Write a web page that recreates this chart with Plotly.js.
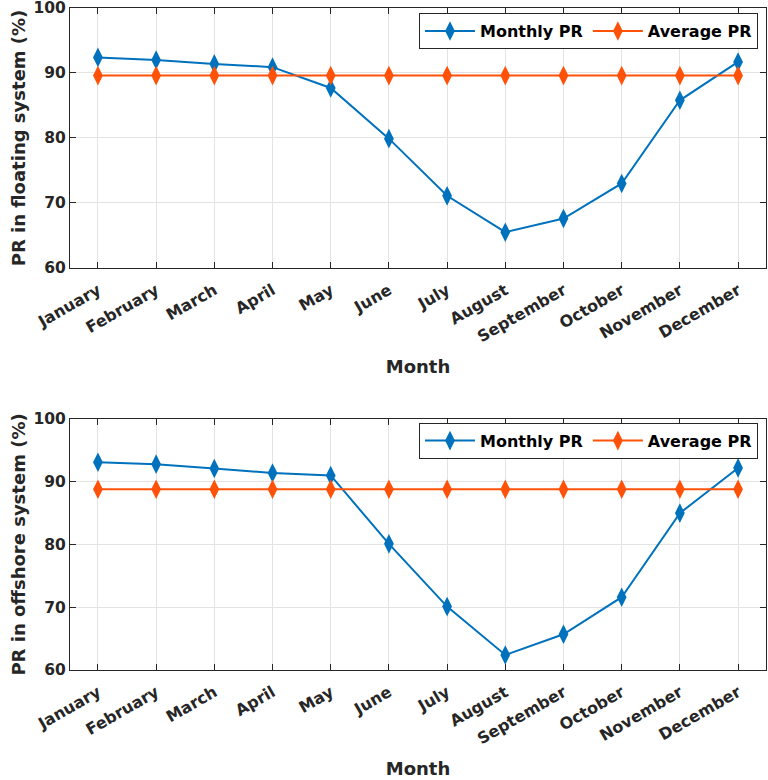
<!DOCTYPE html>
<html>
<head>
<meta charset="utf-8">
<script src="https://cdn.plot.ly/plotly-3.0.1.min.js"></script>
<style>html,body{margin:0;padding:0;background:#fff;}#chart{width:768px;height:780px;}</style>
</head>
<body>
<div id="chart"></div>
<script>
const months = ["January","February","March","April","May","June","July","August","September","October","November","December"];
const floatingMonthly = [92.4, 92.0, 91.4, 90.9, 87.7, 79.9, 71.1, 65.5, 67.6, 73.0, 85.8, 91.7];
const floatingAverage = [89.6, 89.6, 89.6, 89.6, 89.6, 89.6, 89.6, 89.6, 89.6, 89.6, 89.6, 89.6];
const offshoreMonthly = [93.1, 92.8, 92.1, 91.4, 91.0, 80.1, 70.1, 62.4, 65.7, 71.6, 85.0, 92.2];
const offshoreAverage = [88.8, 88.8, 88.8, 88.8, 88.8, 88.8, 88.8, 88.8, 88.8, 88.8, 88.8, 88.8];
const yTicks = [60, 70, 80, 90, 100];

const BLUE = '#0072BD', ORANGE = '#FF5208';
const FONT = 'DejaVu Sans, Liberation Sans, sans-serif';
const TXT = '#262626';
const idx = months.map((m, i) => i);

function series(y, name, color, xa, ya, legend, zorder) {
  return {
    x: idx, y: y, name: name, type: 'scatter', mode: 'lines+markers',
    xaxis: xa, yaxis: ya, legend: legend,
    line: {color: color, width: 2},
    marker: {symbol: 'diamond-tall', size: 14, color: color},
    zorder: zorder
  };
}

const data = [
  series(floatingMonthly, 'Monthly PR', BLUE, 'x', 'y', 'legend', 0),
  series(floatingAverage, 'Average PR', ORANGE, 'x', 'y', 'legend', 1),
  series(offshoreMonthly, 'Monthly PR', BLUE, 'x2', 'y2', 'legend2', 0),
  series(offshoreAverage, 'Average PR', ORANGE, 'x2', 'y2', 'legend2', 1)
];

function xaxis(anchor) {
  return {
    anchor: anchor, domain: [0, 1], range: [-0.48, 11.48],
    tickmode: 'array', tickvals: idx, ticktext: months, tickangle: -30,
    tickfont: {family: FONT, size: 16, color: TXT, weight: 'bold'},
    ticks: 'inside', ticklen: 6, tickcolor: TXT,
    showline: true, linecolor: TXT, linewidth: 1, mirror: 'allticks',
    showgrid: true, gridcolor: '#e3e3e3', gridwidth: 1, zeroline: false,
    ticklabeloverflow: 'allow', ticklabelstandoff: 6,
    title: {text: 'Month', font: {family: FONT, size: 18, color: TXT, weight: 'bold'}, standoff: 15}
  };
}
function yaxis(anchor, domain, title) {
  return {
    anchor: anchor, domain: domain, range: [60, 100],
    tickmode: 'array', tickvals: yTicks,
    tickfont: {family: FONT, size: 15.5, color: TXT, weight: 'bold'},
    ticks: 'inside', ticklen: 6, tickcolor: TXT,
    showline: true, linecolor: TXT, linewidth: 1, mirror: 'allticks',
    showgrid: true, gridcolor: '#e3e3e3', gridwidth: 1, zeroline: false,
    ticklabeloverflow: 'allow',
    title: {text: title, font: {family: FONT, size: 18, color: TXT, weight: 'bold'}, standoff: 3}
  };
}
function legend(y) {
  return {
    orientation: 'h', x: 0.9885, xanchor: 'right', y: y, yanchor: 'top',
    xref: 'paper', yref: 'paper',
    bgcolor: '#ffffff', bordercolor: TXT, borderwidth: 1,
    font: {family: FONT, size: 16, color: '#000', weight: 'bold'},
    itemwidth: 50, tracegroupgap: 0
  };
}

const layout = {
  width: 768, height: 780,
  margin: {l: 70, r: 2, t: 8, b: 110},
  paper_bgcolor: '#ffffff', plot_bgcolor: '#ffffff',
  showlegend: true,
  xaxis: xaxis('y'),
  yaxis: yaxis('x', [0.6073, 1], 'PR in floating system (%)'),
  xaxis2: xaxis('y2'),
  yaxis2: yaxis('x2', [0, 0.3792], 'PR in offshore system (%)'),
  legend: legend(0.9924),
  legend2: legend(0.3736)
};

Plotly.newPlot('chart', data, layout, {displayModeBar: false, staticPlot: true});
</script>
</body>
</html>
